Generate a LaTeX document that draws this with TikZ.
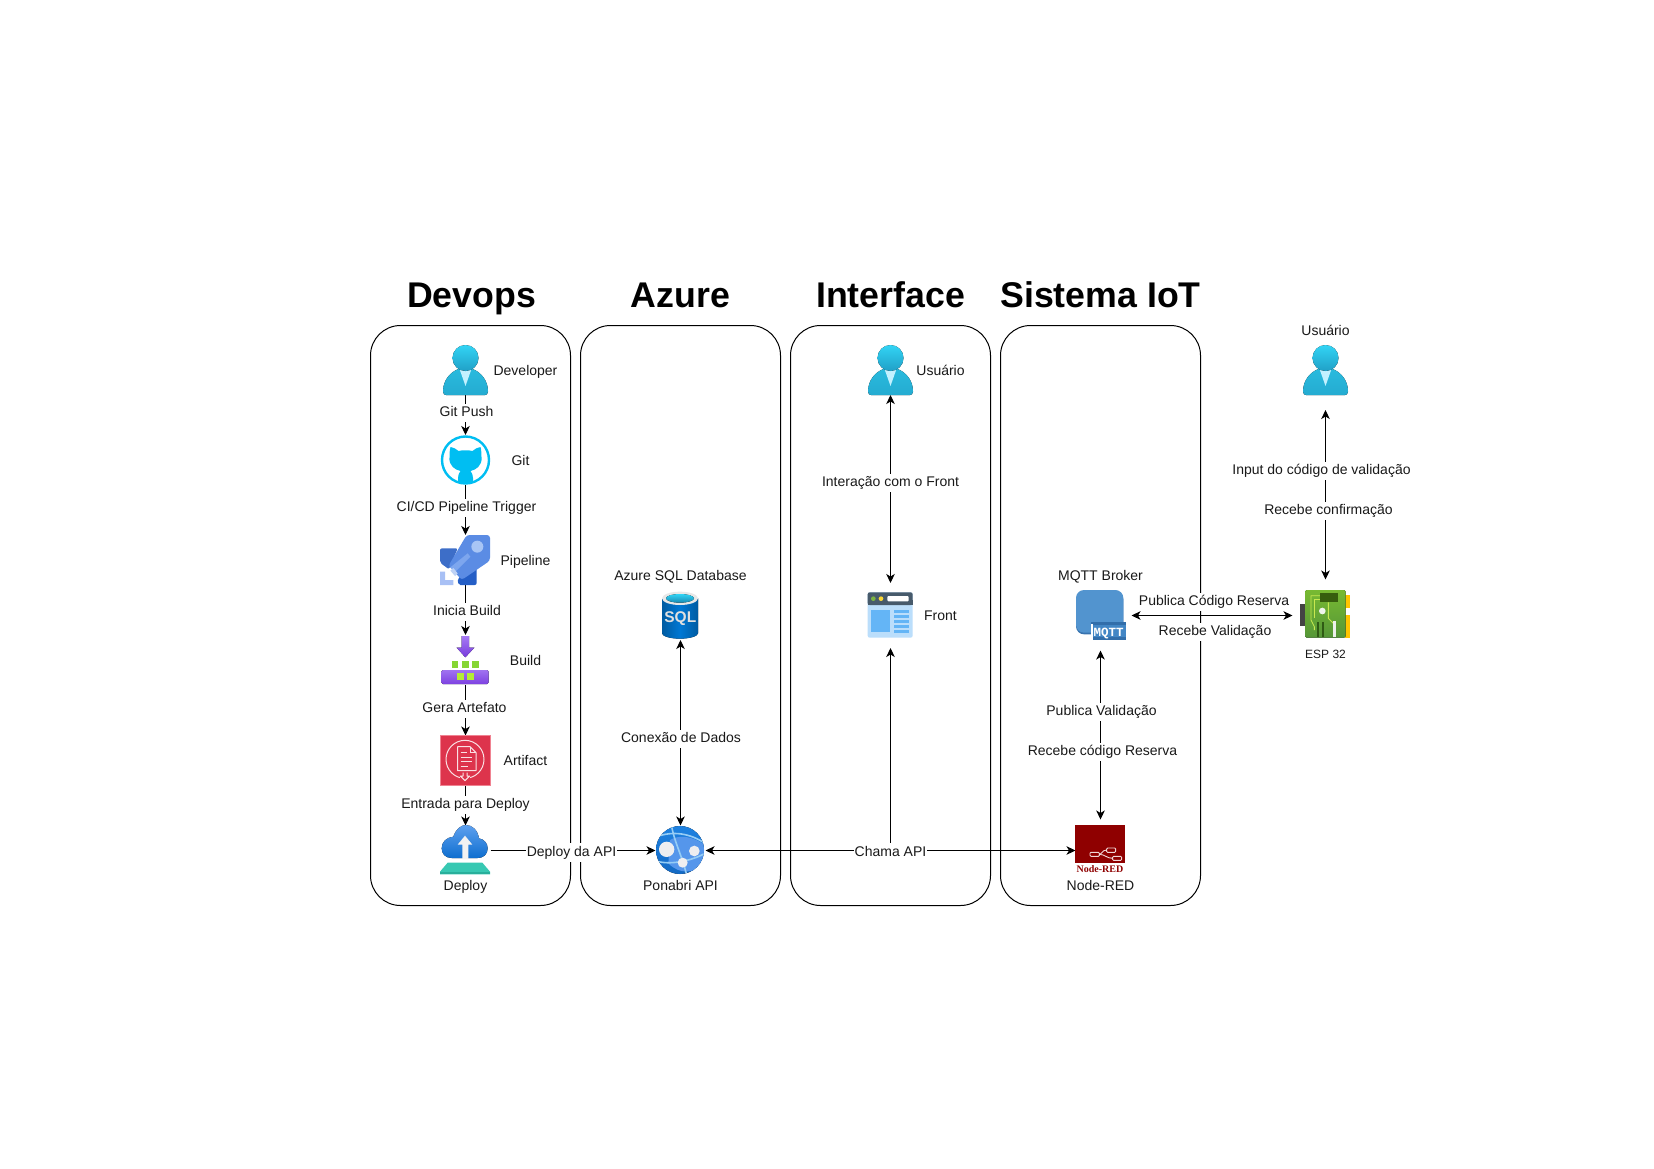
\documentclass[tikz,border=0pt]{standalone}
\usepackage{fontspec}
\setmainfont{Liberation Sans}
\newfontfamily\monofam{Liberation Mono}
\newfontfamily\seriffam{Liberation Serif}
\usetikzlibrary{arrows.meta}
\definecolor{cyanA}{HTML}{32D4F5}
\definecolor{cyanB}{HTML}{198AB3}
\definecolor{gitblue}{HTML}{00BEF2}
\tikzset{
  panel/.style={draw=black,line width=1pt,rounded corners=30pt},
  conn/.style={draw=black,line width=1pt,-{Stealth[length=9pt,width=8.5pt,inset=2.5pt]}},
  both/.style={draw=black,line width=1pt,{Stealth[length=9pt,width=8.5pt,inset=2.5pt]}-{Stealth[length=9pt,width=8.5pt,inset=2.5pt]}},
  iconbox/.style={inner sep=0pt,outer sep=0pt,minimum width=50pt,minimum height=50pt},
  lbl/.style={font=\fontsize{14}{16}\selectfont,text=black!90,inner sep=0.5pt,text height=10.5pt,text depth=3pt,yshift=-2pt},
  edgelbl/.style={lbl,fill=white,inner ysep=2.5pt},
  titlelbl/.style={font=\fontsize{35.7}{40}\selectfont\bfseries,text=black,inner sep=0pt,anchor=base},
  zoomed/.style={x=0.33333pt,y=-0.33333pt},
  personicon/.pic={
    \fill[top color=cyanB!35!cyanA,bottom color=cyanB!55!cyanA] (-22.5,21.5) .. controls (-22.5,10) and (-15,2) .. (-7,-1) -- (7,-1) .. controls (15,2) and (22.5,10) .. (22.5,21.5) .. controls (22.5,24) and (21,25) .. (19.5,25) -- (-19.5,25) .. controls (-21,25) and (-22.5,24) .. (-22.5,21.5) -- cycle;
    \fill[color={rgb,255:red,195;green,241;blue,255}] (-6,-1) -- (6,-1) -- (0,16) -- cycle;
    \fill[top color=cyanA,bottom color=cyanB!70!cyanA] (0,-12) circle[radius=13];
  }
}
\begin{document}
\begin{tikzpicture}[x=1pt,y=-1pt]
\useasboundingbox[fill=white] (0,0) rectangle (1654,1169);

% panels
\draw[panel] (370.5,325.5) rectangle (570.5,905.5);
\draw[panel] (580.5,325.5) rectangle (780.5,905.5);
\draw[panel] (790.5,325.5) rectangle (990.5,905.5);
\draw[panel] (1000.5,325.5) rectangle (1200.5,905.5);

% titles
\node[titlelbl] (t1) at (471.5,307.5) {Devops};
\node[titlelbl] (t2) at (680.5,307.5) {Azure};
\node[titlelbl] (t3) at (890.5,307.5) {Interface};
\node[titlelbl] (t4) at (1100.5,307.5) {Sistema IoT};

% icon anchors
\node[iconbox] (dev) at (465.5,370) {};
\node[iconbox] (git) at (465.5,460) {};
\node[iconbox] (pipe) at (465.5,560) {};
\node[iconbox] (build) at (465.5,660) {};
\node[iconbox] (art) at (465.5,760.5) {};
\node[iconbox] (dep) at (465.5,850.5) {};
\node[iconbox] (sql) at (680.5,615) {};
\node[iconbox] (api) at (680.5,850.5) {};
\node[iconbox] (usr) at (890.5,370) {};
\node[iconbox] (front) at (890.5,615) {};
\node[iconbox] (mqtt) at (1100.5,615.5) {};
\node[iconbox] (nred) at (1100.5,850.5) {};
\node[iconbox] (esp) at (1325.5,615.5) {};
\node[iconbox] (usr2) at (1325.5,370) {};

\coordinate (chama) at (890.5,850.5);

% connectors
\draw[conn] (dev.south) -- (git.north);
\draw[conn] (git.south) -- (pipe.north);
\draw[conn] (pipe.south) -- (build.north);
\draw[conn] (build.south) -- (art.north);
\draw[conn] (art.south) -- (dep.north);
\draw[conn] (dep.east) -- (api.west);
\draw[both] (sql.south) -- (api.north);
\draw[both] (api.east) -- (nred.west);
\draw[both,shorten >=7pt] (usr.south) -- (front.north);
\draw[conn,shorten >=8pt] (chama) -- (front.south);
\draw[both,shorten <=10pt,shorten >=6pt] (mqtt.south) -- (nred.north);
\draw[both,shorten <=6pt,shorten >=8pt] (mqtt.east) -- (esp.west);
\draw[both,shorten <=15pt,shorten >=11pt] (usr2.south) -- (esp.north);

% person icons
\pic at (dev) {personicon};
\pic at (usr) {personicon};
\pic at (usr2) {personicon};

% Git icon
\draw[gitblue,line width=2.4pt] (git) circle[radius=23.5];
\begin{scope}[shift={(git)}]
\fill[gitblue] (-15,-13) .. controls (-12,-12.5) and (-9,-11) .. (-7,-9) .. controls (-3,-10) and (3,-10) .. (7,-9) .. controls (9,-11) and (12,-12.5) .. (15,-13) .. controls (16,-9) and (16,-6) .. (16,-3) .. controls (17,6) and (10,10) .. (5,11) .. controls (6.5,13) and (7.5,15) .. (7.5,18) -- (7.5,22) .. controls (3,23.5) and (-3,23.5) .. (-7.5,22) -- (-7.5,18) .. controls (-7.5,15) and (-6.5,13) .. (-5,11) .. controls (-10,10) and (-17,6) .. (-16,-3) .. controls (-16,-6) and (-16,-9) .. (-15,-13) -- cycle;
\end{scope}

% Pipeline icon
\begin{scope}[shift={(435,530)},zoomed]
\fill[color={rgb,255:red,61;green,110;blue,200},rounded corners=2pt] (15,55) -- (68,55) -- (42,118) -- (15,98) -- cycle;
\fill[color={rgb,255:red,36;green,94;blue,198},rounded corners=2pt] (125,105) -- (125,165) -- (70,165) -- (68,145) -- cycle;
\fill[color={rgb,255:red,91;green,140;blue,228},rounded corners=3pt] (95,15) -- (165,15) -- (165,92) -- (80,150) -- (40,108) -- cycle;
\fill[color={rgb,255:red,125;green,166;blue,238}] (46,112) -- (98,70) -- (106,80) -- (60,126) -- cycle;
\fill[color={rgb,255:red,168;green,197;blue,245}] (127,50) circle[radius=18];
\fill[color={rgb,255:red,168;green,192;blue,245}] (15,125) -- (30,125) -- (30,150) -- (55,150) -- (55,165) -- (15,165) -- cycle;
\fill[white] (34,123) -- (46,113) -- (72,142) -- (60,152) -- cycle;
\fill[color={rgb,255:red,190;green,210;blue,245}] (46,122) -- (55,114) -- (68,130) -- (60,138) -- cycle;
\end{scope}

% Build icon
\begin{scope}[shift={(360,580)},zoomed]
\fill[top color={rgb,255:red,166;green,122;blue,244},bottom color={rgb,255:red,119;green,58;blue,220}] (305,168) -- (327,168) -- (327,203) -- (343,203) -- (316,232) -- (290,203) -- (305,203) -- cycle;
\fill[color={rgb,255:red,134;green,214;blue,51}] (275,243) rectangle (295,263);
\fill[color={rgb,255:red,134;green,214;blue,51}] (306,243) rectangle (327,263);
\fill[color={rgb,255:red,134;green,214;blue,51}] (337,243) rectangle (357,263);
\fill[top color={rgb,255:red,160;green,115;blue,240},bottom color={rgb,255:red,125;green,65;blue,225},rounded corners=1.5pt] (244,270) rectangle (386,312);
\fill[color={rgb,255:red,180;green,236;blue,54}] (291,280) rectangle (312,300);
\fill[color={rgb,255:red,180;green,236;blue,54}] (322,280) rectangle (343,300);
\end{scope}

% Artifact icon
\begin{scope}[shift={(435,730)},zoomed]
\definecolor{artred}{HTML}{DD344C}
\fill[artred] (15,15) rectangle (166,166);
\draw[color={rgb,255:red,240;green,130;blue,145},line width=0.8pt] (15,15) rectangle (166,166);
\draw[color={rgb,255:red,250;green,225;blue,228},line width=1pt] (90,88) circle[radius=57];
\fill[artred] (74,132) rectangle (106,156);
\draw[color={rgb,255:red,250;green,225;blue,228},line width=1pt,line join=round] (68,50) -- (105,50) -- (123,68) -- (123,122) -- (68,122) -- cycle;
\draw[color={rgb,255:red,250;green,225;blue,228},line width=0.8pt] (105,50) -- (105,68) -- (123,68);
\draw[color={rgb,255:red,250;green,225;blue,228},line width=1pt] (77,68) -- (95,68) (77,82) -- (112,82) (77,95) -- (112,95) (77,108) -- (100,108);
\draw[color={rgb,255:red,250;green,225;blue,228},line width=1pt,line join=round] (84,128) -- (84,138) -- (76,138) -- (90,152) -- (104,138) -- (96,138) -- (96,128);
\end{scope}

% Deploy icon
\begin{scope}[shift={(435,820)},zoomed]
\fill[top color={rgb,255:red,94;green,160;blue,239},bottom color={rgb,255:red,15;green,111;blue,207}] (50,114) .. controls (30,114) and (20,100) .. (20,85) .. controls (20,65) and (35,52) .. (55,50) .. controls (62,28) and (78,15) .. (92,15) .. controls (112,15) and (128,30) .. (132,55) .. controls (148,58) and (158,70) .. (158,85) .. controls (158,102) and (146,114) .. (128,114) -- cycle;
\fill[color={rgb,255:red,242;green,242;blue,242}] (90,47) -- (112,74) -- (100,74) -- (100,118) -- (82,118) -- (82,74) -- (68,74) -- cycle;
\fill[color={rgb,255:red,55;green,200;blue,178}] (38,128) -- (142,128) -- (165,155) -- (165,163) -- (15,163) -- (15,155) -- cycle;
\fill[color={rgb,255:red,40;green,175;blue,155}] (15,157) rectangle (165,163);
\end{scope}

% API icon
\begin{scope}[shift={(650,820)},zoomed]
\fill[top color={rgb,255:red,30;green,130;blue,225},bottom color={rgb,255:red,20;green,105;blue,195}] (90,90) circle[radius=72];
\begin{scope}
\clip (90,90) circle[radius=72];
\fill[color={rgb,255:red,85;green,150;blue,235}] (60,60) .. controls (90,42) and (130,50) .. (165,75) -- (165,130) .. controls (130,160) and (90,165) .. (55,130) -- cycle;
\draw[color={rgb,255:red,150;green,205;blue,245},line width=1.6pt] (20,50) .. controls (70,32) and (120,40) .. (165,70);
\draw[color={rgb,255:red,150;green,205;blue,245},line width=1.6pt] (65,20) .. controls (75,70) and (95,105) .. (110,165);
\draw[color={rgb,255:red,150;green,205;blue,245},line width=1.6pt] (25,125) .. controls (70,135) and (130,120) .. (165,100);
\end{scope}
\fill[color={rgb,255:red,238;green,238;blue,240}] (50,88) circle[radius=23];
\fill[color={rgb,255:red,238;green,238;blue,240}] (133,93) circle[radius=16];
\fill[color={rgb,255:red,238;green,238;blue,240}] (98,128) circle[radius=15];
\end{scope}

% SQL icon
\begin{scope}[shift={(640,570)},zoomed]
\fill[left color={rgb,255:red,0;green,91;blue,161},right color={rgb,255:red,0;green,91;blue,161},middle color={rgb,255:red,0;green,120;blue,212}] (66,85) -- (66,190) .. controls (66,198) and (90,206) .. (120,206) .. controls (150,206) and (174,198) .. (174,190) -- (174,85) -- cycle;
\fill[color={rgb,255:red,232;green,232;blue,232}] (120,85) ellipse[x radius=54,y radius=20];
\fill[top color=cyanA,bottom color=cyanB] (120,85) ellipse[x radius=42,y radius=13];
\node[inner sep=0pt,text=white!88!black,font=\fontsize{15.5}{17}\selectfont\bfseries] (sqltxt) at (121,146) {SQL};
\end{scope}

% Front icon
\begin{scope}[shift={(640,570)},zoomed]
\fill[color={rgb,255:red,187;green,222;blue,251},rounded corners=2pt] (683,67) rectangle (818,203);
\fill[color={rgb,255:red,71;green,90;blue,107},rounded corners=2pt] (683,67) rectangle (818,105);
\fill[color={rgb,255:red,71;green,90;blue,107}] (683,90) rectangle (818,105);
\fill[color={rgb,255:red,124;green,179;blue,66}] (700,86) circle[radius=7];
\fill[color={rgb,255:red,253;green,216;blue,53}] (723,86) circle[radius=7];
\fill[white,rounded corners=1pt] (742,78) rectangle (806,94);
\fill[color={rgb,255:red,100;green,181;blue,246}] (693,120) rectangle (750,187);
\foreach \yy in {120,135,150,165,180}
  \fill[color={rgb,255:red,100;green,181;blue,246}] (762,\yy) rectangle (806,\yy+8);
\end{scope}

% MQTT icon
\begin{scope}[shift={(1070,585)},zoomed]
\fill[color={rgb,255:red,55;green,115;blue,175},rounded corners=8pt] (18,20) rectangle (160,148);
\fill[color={rgb,255:red,82;green,148;blue,207},rounded corners=8pt] (18,15) rectangle (160,143);
\fill[color={rgb,255:red,50;green,110;blue,170}] (62,112) rectangle (168,122);
\fill[white] (62,118) rectangle (68,155);
\fill[color={rgb,255:red,66;green,134;blue,197}] (68,120) rectangle (168,160);
\fill[color={rgb,255:red,50;green,110;blue,170}] (68,156) rectangle (168,165);
\node[inner sep=0pt,text=white,font=\fontsize{12.5}{13}\selectfont\monofam\bfseries] (mqtxt) at (116,145) {MQTT};
\end{scope}

% Node-RED icon
\begin{scope}[shift={(1040,800)},zoomed]
\fill[color={rgb,255:red,143;green,0;blue,0}] (105,75) rectangle (255,190);
\draw[color={rgb,255:red,240;green,215;blue,215},line width=0.9pt,rounded corners=1pt] (150,157) rectangle (178,169);
\draw[color={rgb,255:red,240;green,215;blue,215},line width=0.9pt,rounded corners=1pt] (200,144) rectangle (227,157);
\draw[color={rgb,255:red,240;green,215;blue,215},line width=0.9pt,rounded corners=1pt] (218,169) rectangle (245,181);
\draw[color={rgb,255:red,240;green,215;blue,215},line width=0.9pt] (178,163) .. controls (186,163) and (186,150) .. (200,150);
\draw[color={rgb,255:red,240;green,215;blue,215},line width=0.9pt] (178,163) .. controls (195,163) and (200,175) .. (218,175);
\node[inner sep=0pt,text={rgb,255:red,143;green,0;blue,0},font=\fontsize{10}{11}\selectfont\seriffam\bfseries] (nrtxt) at (180,207) {Node-RED};
\end{scope}

% ESP32 icon
\begin{scope}[shift={(1295,585)},zoomed]
\fill[color={rgb,255:red,68;green,68;blue,68}] (15,58) rectangle (30,122);
\fill[color={rgb,255:red,255;green,196;blue,0}] (150,30) rectangle (166,70);
\fill[color={rgb,255:red,255;green,196;blue,0}] (150,90) rectangle (166,158);
\fill[top color={rgb,255:red,120;green,186;blue,50},bottom color={rgb,255:red,85;green,150;blue,55},rounded corners=1.5pt] (30,15) rectangle (152,158);
\draw[color={rgb,255:red,200;green,232;blue,80},line width=0.8pt] (75,32) -- (48,32) -- (48,105) -- (58,125) -- (58,135);
\draw[color={rgb,255:red,200;green,232;blue,80},line width=0.8pt] (75,44) -- (58,44) -- (58,100);
\draw[color={rgb,255:red,200;green,232;blue,80},line width=0.8pt] (100,52) -- (100,100) -- (115,115);
\fill[color={rgb,255:red,55;green,94;blue,14}] (75,25) rectangle (128,52);
\fill[color={rgb,255:red,240;green,245;blue,235}] (82,78) circle[radius=10];
\fill[color={rgb,255:red,47;green,90;blue,20}] (65,110) rectangle (73,155);
\fill[color={rgb,255:red,47;green,90;blue,20}] (80,110) rectangle (88,155);
\fill[color={rgb,255:red,238;green,240;blue,235}] (115,108) rectangle (124,155);
\end{scope}

% side labels
\node[lbl] (ldev) at (525.5,370) {Developer};
\node[lbl] (lgit) at (520.5,460) {Git};
\node[lbl] (lpipe) at (525.5,560) {Pipeline};
\node[lbl] (lbuild) at (525.5,660) {Build};
\node[lbl] (lart) at (525.5,760) {Artifact};
\node[lbl] (ldep) at (465.5,885) {Deploy};
\node[lbl] (lsql) at (680.5,575) {Azure SQL Database};
\node[lbl] (lapi) at (680.5,885) {Ponabri API};
\node[lbl] (lusr) at (940.5,370) {Usuário};
\node[lbl] (lfront) at (940.5,615) {Front};
\node[lbl] (lmq) at (1100.5,575) {MQTT Broker};
\node[lbl] (lnr) at (1100.5,885) {Node-RED};
\node[lbl] (lusr2) at (1325.5,330) {Usuário};
\node[lbl,font=\fontsize{12}{14}\selectfont] (lesp) at (1325.5,653) {ESP 32};

% connector labels
\node[edgelbl] (e1) at (466.5,411) {Git Push};
\node[edgelbl] (e2) at (466.5,506) {CI/CD Pipeline Trigger};
\node[edgelbl] (e3) at (467,610) {Inicia Build};
\node[edgelbl] (e4) at (464.5,707) {Gera Artefato};
\node[edgelbl] (e5) at (465.5,803) {Entrada para Deploy};
\node[edgelbl] (e6) at (571.5,850.5) {Deploy da API};
\node[edgelbl] (e7) at (681,737) {Conexão de Dados};
\node[edgelbl] (e8) at (890.5,481) {Interação com o Front};
\node[edgelbl] (e9) at (890.5,850.5) {Chama API};
\node[edgelbl] (e10) at (1101.5,710) {Publica Validação};
\node[edgelbl] (e11) at (1102.5,750) {Recebe código Reserva};
\node[edgelbl] (e12) at (1214,600) {Publica Código Reserva};
\node[edgelbl] (e13) at (1215,630) {Recebe Validação};
\node[edgelbl] (e14) at (1321.5,469) {Input do código de validação};
\node[edgelbl] (e15) at (1328.5,509) {Recebe confirmação};
\end{tikzpicture}
\end{document}
